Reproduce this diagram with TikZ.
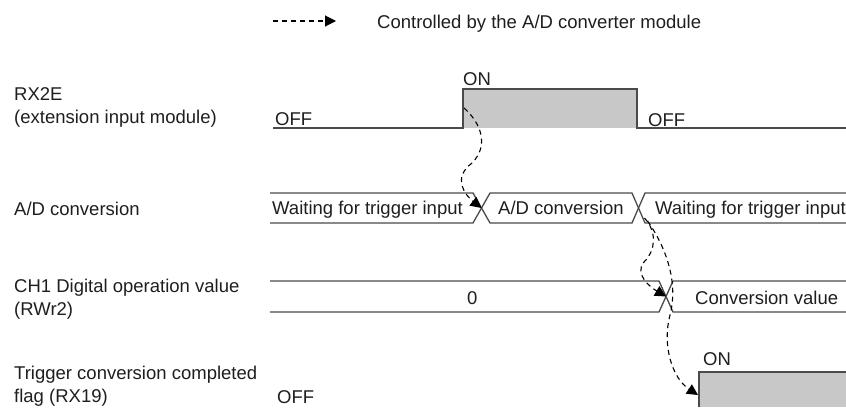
\documentclass[tikz,border=0pt]{standalone}
\usepackage{fontspec}
\setmainfont{Liberation Sans}
\usetikzlibrary{arrows.meta,calc}
\definecolor{linex}{HTML}{4a4a4a}
\definecolor{fillx}{HTML}{c8c8c8}
\definecolor{textx}{HTML}{1e1e1e}

\begin{document}
\begin{tikzpicture}[x=1pt, y=-1pt,
  lab/.style={anchor=base west, inner sep=0pt, align=left, text=textx, font=\fontsize{18.5}{23}\selectfont},
  wave/.style={draw=linex, line width=1.3pt},
  ctl/.style={black, line width=1.1pt, dash pattern=on 5pt off 4pt, -{Triangle[length=11pt, width=11pt]}}]
\useasboundingbox (0,0) rectangle (846,407);
% legend
\coordinate (k0) at (273,21);
\coordinate (k1) at (336,21);
\draw[ctl] (k0) -- (k1);
\node[lab] (key) at (377,28) {Controlled by the A/D converter module};
% signal names (base = last line)
\node[lab] (rx) at (14,123) {RX2E\\(extension input module)};
\node[lab] (ad) at (14,215) {A/D conversion};
\node[lab] (ch) at (14,315) {CH1 Digital operation value\\(RWr2)};
\node[lab] (tr) at (14,402) {Trigger conversion completed\\flag (RX19)};
% RX2E
\fill[fillx] (463,89) rectangle (637,128);
\draw[wave] (273,128) -- (463,128) -- (463,89) -- (637,89) -- (637,128) -- (846,128);
\node[lab] (rxon) at (463,85) {ON};
\node[lab] (rxoff) at (275,125) {OFF};
\node[lab] (rxoff2) at (648,126) {OFF};
\coordinate (rise) at (464,108);
% A/D conversion
\draw[wave] (270,193) -- (473,193) -- (490,223) -- (632,223) -- (645,193) -- (846,193);
\draw[wave] (270,223) -- (473,223) -- (490,193) -- (632,193) -- (645,223) -- (846,223);
\node[lab] (wait) at (272,214) {Waiting for trigger input};
\node[lab] (conv) at (498,214) {A/D conversion};
\node[lab] (wait2) at (655,214) {Waiting for trigger input};
\coordinate (adx1) at (481.5,208);
\coordinate (adx2) at (638.5,208);
% CH1 digital operation value
\draw[wave] (270,281) -- (659,281) -- (673,312) -- (846,312);
\draw[wave] (270,312) -- (659,312) -- (673,281) -- (846,281);
\node[lab] (zero) at (467,304) {0};
\node[lab] (val) at (695,304) {Conversion value};
\coordinate (chx) at (666,296.5);
% RX19
\fill[fillx] (699,372) rectangle (846,407);
\draw[wave] (699,407) -- (699,372) -- (846,372);
\node[lab] (fon) at (703,365) {ON};
\node[lab] (foff) at (277,403) {OFF};
\coordinate (fup) at (698,395);
% controlled by the module
\draw[ctl] (rise) .. controls (480,122) and (490,145) .. (472,163)
  .. controls (452,178) and (465,195) .. (adx1);
\draw[ctl] ($(adx2)+(6,10)$) .. controls (657,232) and (656,250) .. (644,262)
  .. controls (634,274) and (650,287) .. (chx);
\draw[ctl] ($(adx2)+(9,13)$) .. controls (668,250) and (678,285) .. (670,315)
  .. controls (662,345) and (672,378) .. (fup);
\end{tikzpicture}
\end{document}
